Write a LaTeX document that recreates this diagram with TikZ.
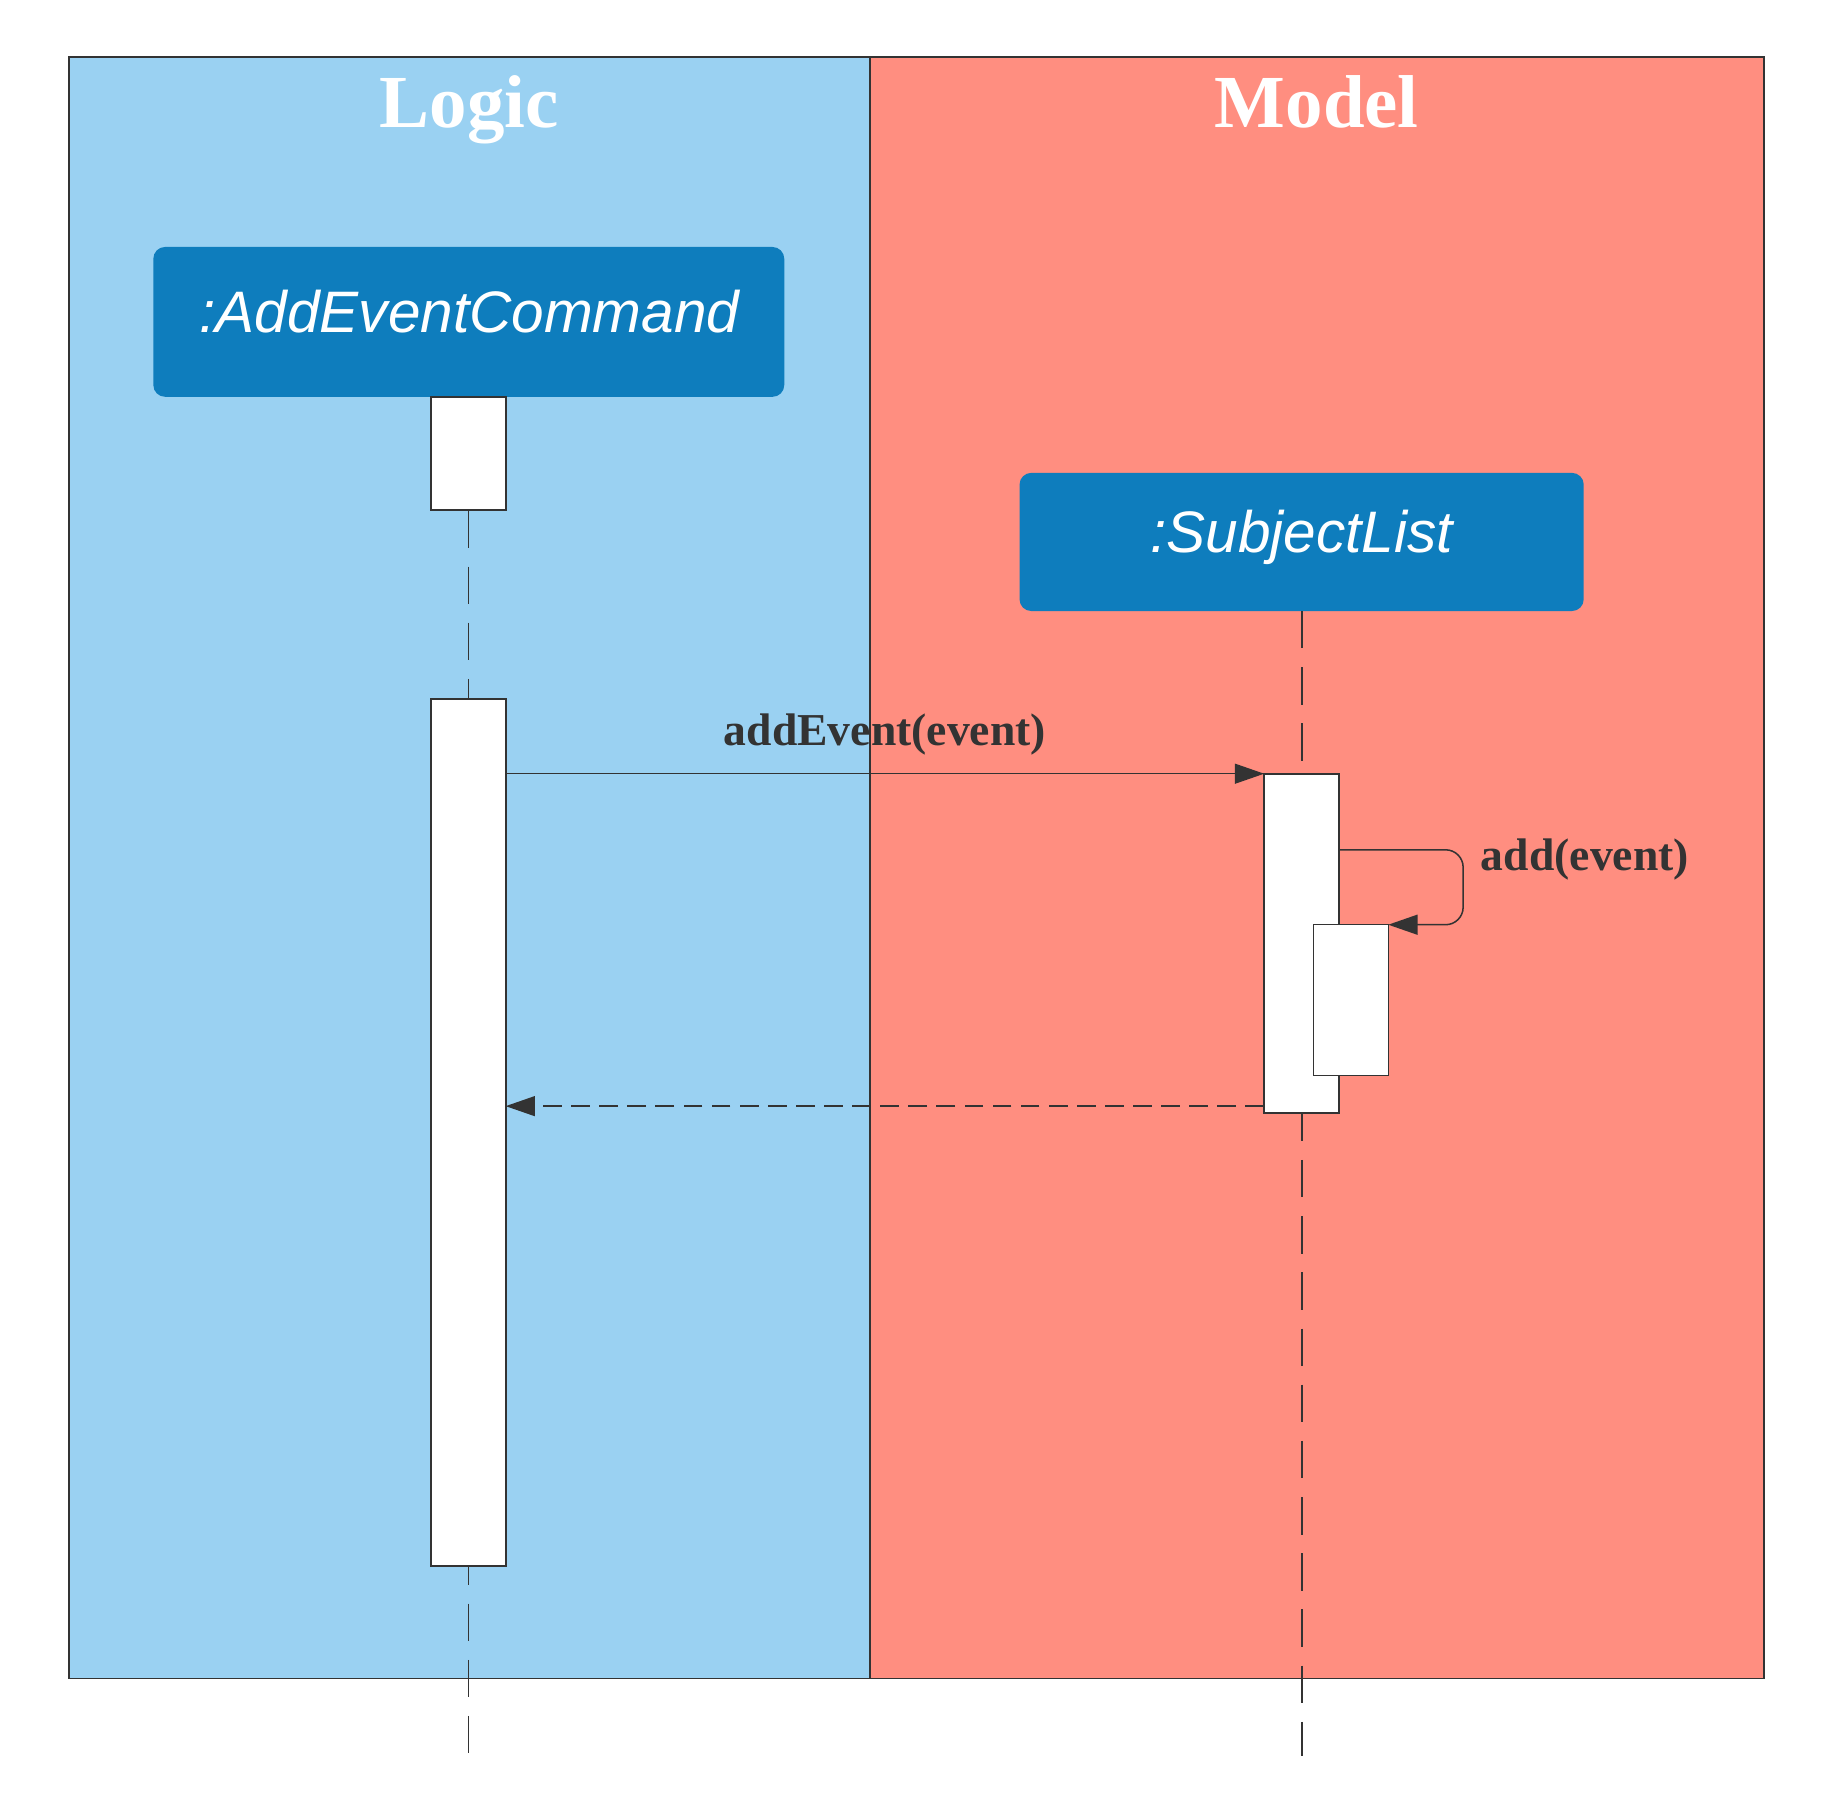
\documentclass[tikz,border=0pt]{standalone}
\usepackage{fontspec}
\setmainfont{Liberation Serif}
\setsansfont{Liberation Sans}
\usetikzlibrary{arrows.meta}
\definecolor{logicbg}{HTML}{9AD1F2}
\definecolor{modelbg}{HTML}{FF8E80}
\definecolor{objblue}{HTML}{0E7DBD}
\definecolor{ink}{HTML}{333333}
\begin{document}
\begin{tikzpicture}[x=1pt,y=-1pt,
  lane/.style={draw=ink,line width=1.6pt,anchor=north west,inner sep=0pt,outer sep=0pt},
  lanetitle/.style={text=white,font=\fontsize{64}{70}\selectfont\bfseries,anchor=base,inner sep=0pt},
  objbox/.style={fill=objblue,rounded corners=10pt,anchor=north west,inner sep=0pt,outer sep=0pt},
  objtext/.style={text=white,font=\sffamily\itshape\fontsize{50}{56}\selectfont,anchor=base,inner sep=0pt},
  actbar/.style={draw=ink,fill=white,line width=1.6pt,anchor=north west,inner sep=0pt,outer sep=0pt,minimum width=64pt},
  lifeline/.style={draw=ink,line width=1.2pt,dash pattern=on 32pt off 16pt},
  msgline/.style={draw=ink,line width=1.3pt,-{Triangle[length=25pt,width=17pt]}},
  retline/.style={msgline,dash pattern=on 16pt off 8pt},
  msglabel/.style={text=ink,font=\fontsize{39}{45}\selectfont\bfseries,inner sep=0pt}
]
\useasboundingbox (0,0) rectangle (1560,1533);
\fill[white] (0,0) rectangle (1560,1533);

% swimlanes
\node[lane,fill=logicbg,minimum width=684pt,minimum height=1385pt] (logic) at (59,49) {};
\node[lane,fill=modelbg,minimum width=764pt,minimum height=1385pt] (model) at (743,49) {};
\node[lanetitle] (logictitle) at (401,109) {Logic};
\node[lanetitle] (modeltitle) at (1125,109) {Model};

% activation bars (positions)
\node[actbar,minimum height=97pt] (bar1) at (368,339) {};
\node[actbar,minimum height=741pt] (bar2) at (368,597) {};
\node[actbar,minimum height=290pt] (bar3) at (1080,661) {};

% object boxes
\node[objbox,minimum width=539pt,minimum height=128pt] (cmd) at (131,211) {};
\node[objtext] (cmdtext) at (401,284) {:AddEventCommand};
\node[objbox,minimum width=482pt,minimum height=118pt] (sl) at (871,404) {};
\node[objtext] (sltext) at (1112,472) {:SubjectList};

% lifeline end points
\coordinate (endL) at (400,1500);
\coordinate (endR) at (1112,1500);

% lifelines (drawn under bars)
\draw[lifeline] (bar1.south) -- (bar2.north);
\draw[lifeline,dash phase=16pt] (bar2.south) -- (endL);
\draw[lifeline,line width=1.7pt] (sl.south -| bar3.north) -- (bar3.north);
\draw[lifeline,line width=1.7pt,dash phase=8pt] (bar3.south) -- (endR);

% redraw bars on top of lifelines
\node[actbar,minimum height=97pt] at (368,339) {};
\node[actbar,minimum height=741pt] at (368,597) {};
\node[actbar,minimum height=290pt] at (1080,661) {};
\node[actbar,line width=1.2pt,minimum height=129pt] (bar4) at (1122,790) {};

% messages
\draw[msgline] (bar3.north west -| bar2.east) -- (bar3.north west);
\node[msglabel,anchor=base] (lbl1) at (756,637) {addEvent(event)};

\coordinate (selfstart) at (1144,726);
\coordinate (selfturn) at (1250,726);
\draw[msgline,rounded corners=15pt] (selfstart) -- (selfturn) |- (bar4.north east);
\node[msglabel,anchor=base west] (lbl2) at (1265,744) {add(event)};

\coordinate (retstart) at (1080,945);
\draw[retline] (retstart) -- (retstart -| bar2.east);
\end{tikzpicture}
\end{document}
